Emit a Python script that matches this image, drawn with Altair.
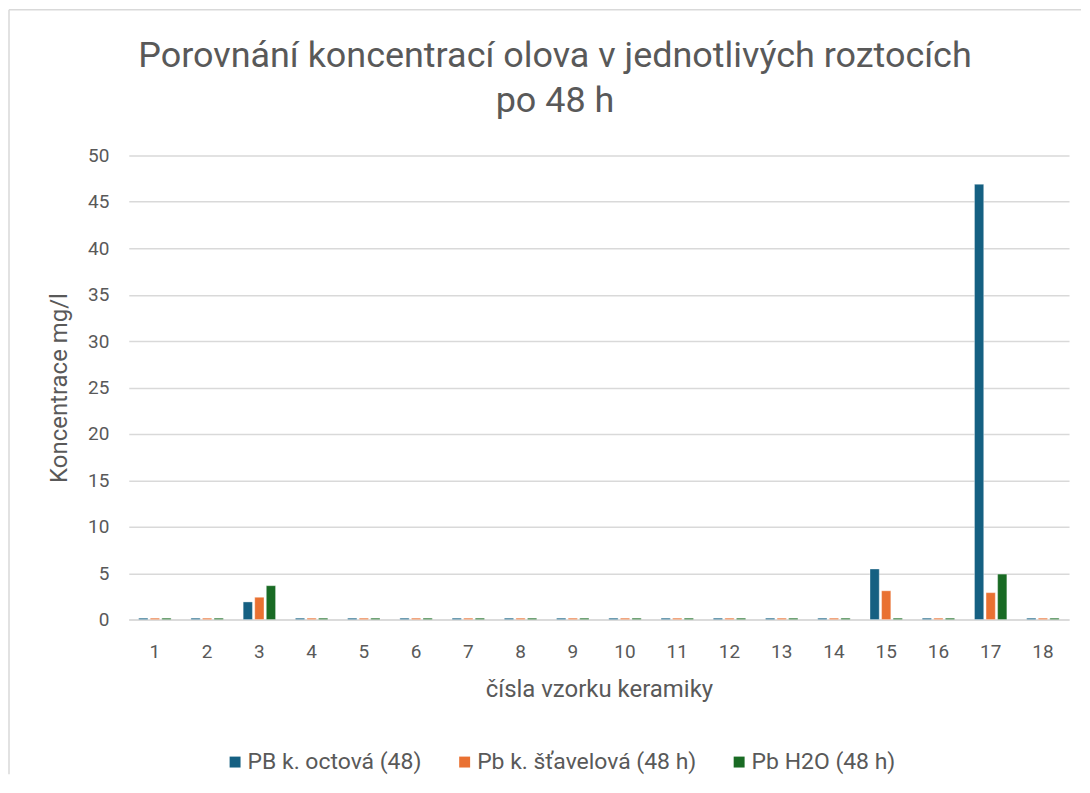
import altair as alt
import pandas as pd

samples = [str(i) for i in range(1, 19)]
series_names = ["PB k. octová (48)", "Pb k. šťavelová (48 h)", "Pb H2O (48 h)"]
octova = [0.15, 0.15, 1.9, 0.15, 0.15, 0.15, 0.15, 0.15, 0.15, 0.15, 0.15, 0.15, 0.15, 0.15, 5.45, 0.15, 46.9, 0.15]
stavelova = [0.15, 0.15, 2.4, 0.15, 0.15, 0.15, 0.15, 0.15, 0.15, 0.15, 0.15, 0.15, 0.15, 0.15, 3.1, 0.15, 2.9, 0.15]
h2o = [0.15, 0.15, 3.65, 0.15, 0.15, 0.15, 0.15, 0.15, 0.15, 0.15, 0.15, 0.15, 0.15, 0.15, 0.15, 0.15, 4.9, 0.15]
colors = ["#156082", "#E97132", "#196B24"]
title_lines = ["Porovnání koncentrací olova v jednotlivých roztocích", "po 48 h"]

rows = []
for name, vals in zip(series_names, [octova, stavelova, h2o]):
    for s, v in zip(samples, vals):
        rows.append({"vzorek": s, "serie": name, "hodnota": v})
df = pd.DataFrame(rows)

font = "Roboto"
gray = "#595959"

bars = alt.Chart(df).mark_bar(stroke="white", strokeWidth=0.6, strokeOpacity=0.6).encode(
    x=alt.X("vzorek:N", sort=samples,
            scale=alt.Scale(paddingInner=0.38, paddingOuter=0.19),
            axis=alt.Axis(title="čísla vzorku keramiky", labelAngle=0, ticks=False,
                          domain=True, domainColor="#d9d9d9", domainWidth=1.5,
                          labelPadding=23, titlePadding=16)),
    xOffset=alt.XOffset("serie:N", sort=series_names, scale=alt.Scale(paddingInner=0.2)),
    y=alt.Y("hodnota:Q", scale=alt.Scale(domain=[0, 50]),
            axis=alt.Axis(title="Koncentrace mg/l", values=list(range(0, 51, 5)),
                          ticks=False, domain=False, gridColor="#d9d9d9", gridWidth=1.5,
                          labelPadding=20, titlePadding=16)),
    color=alt.Color("serie:N", sort=series_names,
                    scale=alt.Scale(domain=series_names, range=colors),
                    legend=alt.Legend(title=None, orient="none", direction="horizontal",
                                      legendX=95, legendY=596,
                                      symbolType="square", symbolSize=120, symbolStrokeWidth=0,
                                      labelFontSize=23, labelColor=gray, labelFont=font,
                                      labelLimit=0, columnPadding=31, labelOffset=1)),
)

frame_df = pd.DataFrame({"k": [0]})
top_line = alt.Chart(frame_df).mark_rule(color="#d9d9d9", strokeWidth=1.5).encode(
    x=alt.value(-120), x2=alt.value(954), y=alt.value(-146))
left_line = alt.Chart(frame_df).mark_rule(color="#d9d9d9", strokeWidth=1.5).encode(
    x=alt.value(-120), y=alt.value(-146), y2=alt.value(620))

title1 = alt.Chart(frame_df).mark_text(
    text=title_lines[0], font=font, fontSize=36, color=gray, align="center", baseline="middle"
).encode(x=alt.value(427), y=alt.value(-100))
title2 = alt.Chart(frame_df).mark_text(
    text=title_lines[1], font=font, fontSize=36, color=gray, align="center", baseline="middle"
).encode(x=alt.value(427), y=alt.value(-55))

chart = alt.layer(bars, top_line, left_line, title1, title2).properties(
    width=942,
    height=465,
    padding={"left": 0, "top": 0, "right": 0, "bottom": 0},
).configure_view(stroke=None).configure_axis(
    labelFont=font, titleFont=font, labelFontSize=19, titleFontSize=24,
    labelColor=gray, titleColor=gray, titleFontWeight="normal",
).configure_legend(labelFontSize=23, labelFont=font, labelColor=gray)

chart.save("out.html", embed_options={"renderer": "svg", "actions": False})
